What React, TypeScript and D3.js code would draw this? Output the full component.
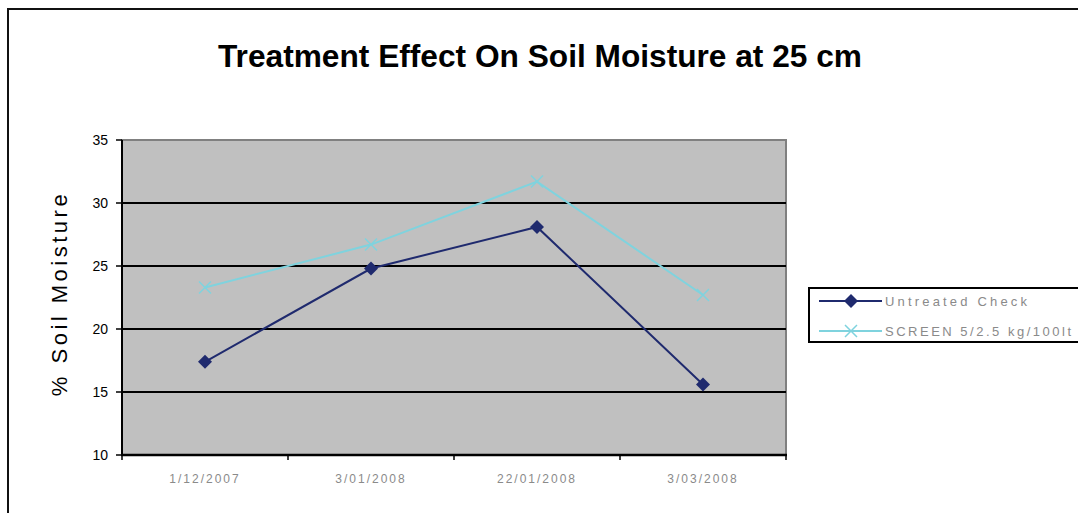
import { useEffect, useRef } from "react";
import * as d3 from "d3";

const CATEGORIES = ["1/12/2007", "3/01/2008", "22/01/2008", "3/03/2008"];
const UNTREATED = [17.4, 24.8, 28.1, 15.6];
const SCREEN = [23.3, 26.7, 31.7, 22.7];
const Y_TICKS = [10, 15, 20, 25, 30, 35];
const SERIES = [
  { name: "Untreated Check", values: UNTREATED, color: "#1F2A6E", marker: "diamond" },
  { name: "SCREEN 5/2.5 kg/100lt", values: SCREEN, color: "#7FD3DE", marker: "x" },
];

const FONT = "Liberation Sans, Arial, sans-serif";

export default function App() {
  const ref = useRef<SVGSVGElement>(null);
  useEffect(() => {
    const el = ref.current;
    if (!el) return;
    const W = 1078, H = 513;
    const svg = d3.select(el);
    svg.selectAll("*").remove();
    const L = 122, R = 786, T = 140, B = 455;

    // outer chart border (cut off on right/bottom)
    svg.append("rect").attr("x", 8).attr("y", 9).attr("width", W + 20).attr("height", H + 20)
      .attr("fill", "#fff").attr("stroke", "#111").attr("stroke-width", 2);

    svg.append("text").attr("x", 540).attr("y", 67).attr("text-anchor", "middle")
      .attr("font-family", FONT).attr("font-weight", "bold")
      .attr("font-size", 31).attr("textLength", 644).attr("lengthAdjust", "spacingAndGlyphs")
      .attr("fill", "#000").text("Treatment Effect On Soil Moisture at 25 cm");

    const x = d3.scaleBand<string>().domain(CATEGORIES).range([L, R]);
    const y = d3.scaleLinear().domain([10, 35]).range([B, T]);

    svg.append("rect").attr("x", L).attr("y", T).attr("width", R - L).attr("height", B - T)
      .attr("fill", "#C0C0C0").attr("stroke", "#808080").attr("stroke-width", 2);

    Y_TICKS.forEach((t) => {
      if (t > 10 && t < 35) {
        svg.append("line").attr("x1", L).attr("x2", R).attr("y1", y(t)).attr("y2", y(t))
          .attr("stroke", "#000").attr("stroke-width", 2);
      }
      svg.append("line").attr("x1", L - 6).attr("x2", L).attr("y1", y(t)).attr("y2", y(t))
        .attr("stroke", "#000").attr("stroke-width", 1.5);
      svg.append("text").attr("x", 108).attr("y", y(t) + 5).attr("text-anchor", "end")
        .attr("font-family", FONT).attr("font-size", 14)
        .attr("fill", "#000").text(t);
    });

    // axes
    svg.append("line").attr("x1", L).attr("x2", L).attr("y1", T).attr("y2", B + 1)
      .attr("stroke", "#000").attr("stroke-width", 2);
    svg.append("line").attr("x1", L - 1).attr("x2", R + 1).attr("y1", B).attr("y2", B)
      .attr("stroke", "#000").attr("stroke-width", 2.5);
    [...CATEGORIES.map((c) => x(c) ?? 0), R].forEach((px) => {
      svg.append("line").attr("x1", px).attr("x2", px).attr("y1", B).attr("y2", B + 5)
        .attr("stroke", "#000").attr("stroke-width", 1.5);
    });
    CATEGORIES.forEach((c) => {
      svg.append("text").attr("x", (x(c) ?? 0) + x.bandwidth() / 2).attr("y", 483)
        .attr("text-anchor", "middle").attr("font-family", FONT)
        .attr("font-size", 12).attr("letter-spacing", 2).attr("fill", "#8a8a8a").text(c);
    });

    svg.append("text").attr("transform", `translate(67,${(T + B) / 2 - 4}) rotate(-90)`)
      .attr("text-anchor", "middle").attr("font-family", FONT)
      .attr("font-size", 22).attr("letter-spacing", 3.5).attr("fill", "#000").text("% Soil Moisture");

    const cx = (c: string) => (x(c) ?? 0) + x.bandwidth() / 2;
    const drawMarker = (g: d3.Selection<SVGGElement, unknown, null, undefined>, kind: string, px: number, py: number, color: string) => {
      if (kind === "diamond") {
        g.append("path").attr("d", `M${px},${py - 7}L${px + 7},${py}L${px},${py + 7}L${px - 7},${py}Z`).attr("fill", color);
      } else {
        g.append("path").attr("d", `M${px - 6},${py - 6}L${px + 6},${py + 6}M${px - 6},${py + 6}L${px + 6},${py - 6}`)
          .attr("stroke", color).attr("stroke-width", 1.5);
      }
    };

    SERIES.slice().reverse().forEach((s) => {
      const g = svg.append("g");
      const line = d3.line<number>().x((_d, i) => cx(CATEGORIES[i])).y((d) => y(d));
      g.append("path").attr("d", line(s.values)).attr("fill", "none").attr("stroke", s.color).attr("stroke-width", 2);
      s.values.forEach((v, i) => drawMarker(g, s.marker, cx(CATEGORIES[i]), y(v), s.color));
    });

    // legend
    svg.append("rect").attr("x", 809).attr("y", 288).attr("width", 300).attr("height", 54)
      .attr("fill", "#fff").attr("stroke", "#000").attr("stroke-width", 2);
    const legendWidths = [142, 186];
    SERIES.forEach((s, i) => {
      const ly = 301 + i * 30;
      const g = svg.append("g");
      g.append("line").attr("x1", 819).attr("x2", 882).attr("y1", ly).attr("y2", ly)
        .attr("stroke", s.color).attr("stroke-width", 2);
      drawMarker(g, s.marker, 851, ly, s.color);
      g.append("text").attr("x", 885).attr("y", ly + 5).attr("font-family", FONT)
        .attr("font-size", 13).attr("textLength", legendWidths[i]).attr("lengthAdjust", "spacing")
        .attr("fill", "#8a8a8a").text(s.name);
    });
  }, []);
  return <svg ref={ref} width={1078} height={513} style={{ position: "absolute", left: 0, top: 0 }} />;
}
